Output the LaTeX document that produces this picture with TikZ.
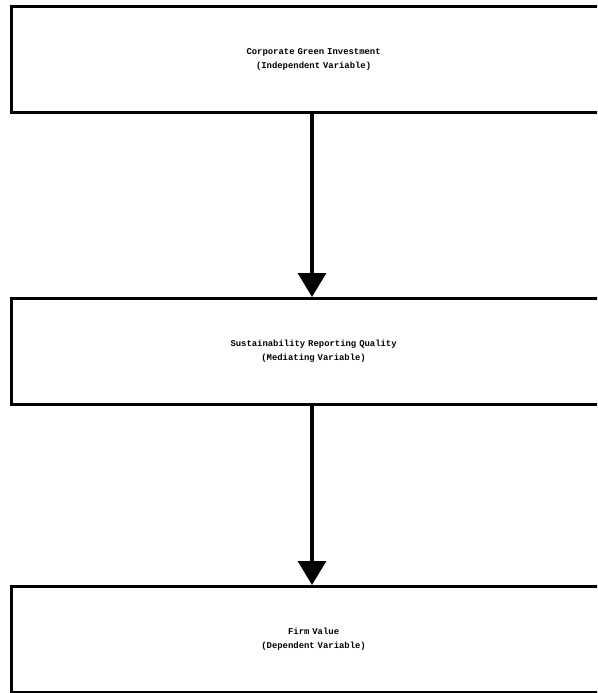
\documentclass[tikz,border=0pt]{standalone}
\usepackage{fontspec}
\setmonofont{Liberation Mono}
\usetikzlibrary{arrows.meta}
\begin{document}
\begin{tikzpicture}[x=1pt,y=-1pt,
  varbox/.style={draw=black,line width=3.2pt,fill=white,minimum width=604pt,minimum height=106pt,
    align=center,inner sep=0pt,font=\ttfamily\bfseries\fontsize{8.9}{14}\selectfont,anchor=north west,text width=600pt},
  flow/.style={line width=3.2pt,-{Triangle[width=28pt,length=24pt]}}]
\useasboundingbox (0,0) rectangle (597,693);
\begin{scope}
\clip (0,0) rectangle (597,693);
\node[varbox] (iv) at (10,5) {Corporate Green Investment\\(Independent Variable)};
\node[varbox] (mv) at (10,297) {Sustainability Reporting Quality\\(Mediating Variable)};
\node[varbox] (dv) at (10,585) {Firm Value\\(Dependent Variable)};
\end{scope}
\draw[flow] (iv.south -| 312,0) -- (mv.north -| 312,0);
\draw[flow] (mv.south -| 312,0) -- (dv.north -| 312,0);
\end{tikzpicture}
\end{document}
